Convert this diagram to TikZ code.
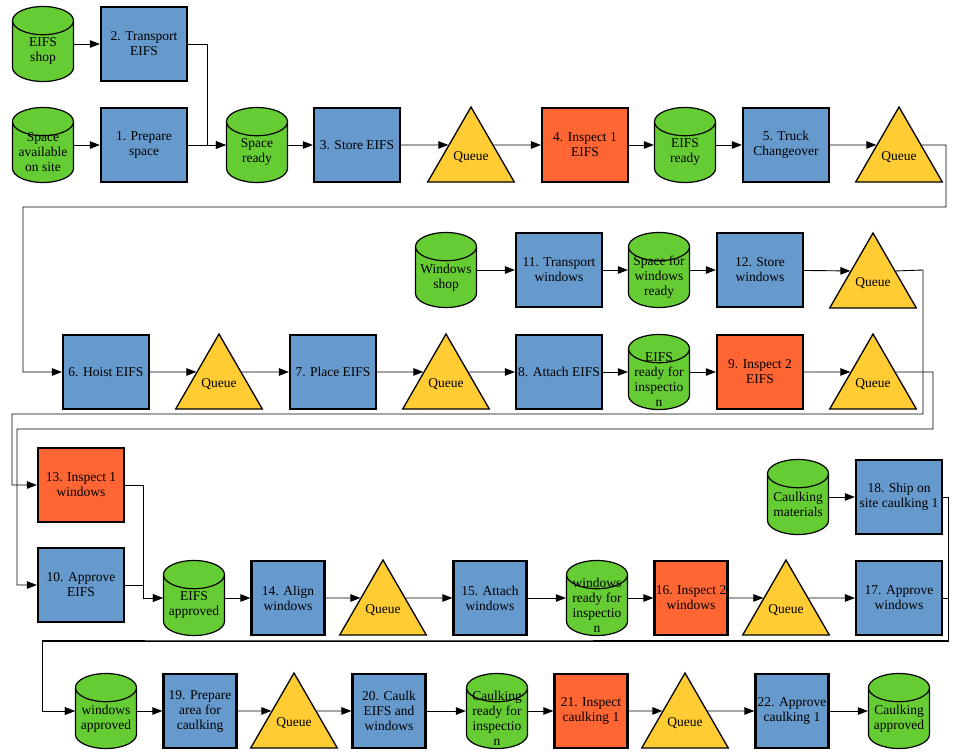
\documentclass[tikz,border=0pt]{standalone}
\usepackage{fontspec}
\setmainfont{Liberation Serif}
\usetikzlibrary{shapes.geometric,arrows.meta}
\pgfdeclarelayer{bg}
\pgfsetlayers{bg,main}
\definecolor{taskblue}{RGB}{102,153,204}
\definecolor{inspred}{RGB}{255,102,51}
\definecolor{stockgreen}{RGB}{102,204,51}
\definecolor{queueyellow}{RGB}{255,204,51}
\tikzset{
    every node/.style={inner sep=0pt, align=center, font=\fontsize{13.5}{15}\selectfont},
    taskbox/.style={rectangle, draw, line width=2.2pt, fill=taskblue, minimum width=86pt, minimum height=74pt},
    narrowbox/.style={minimum width=73pt},
    inspbox/.style={taskbox, fill=inspred},
    stockcyl/.style={cylinder, shape border rotate=90, anchor=shape center, draw, line width=1.2pt, fill=stockgreen, text width=60pt, aspect=0.47, minimum width=61pt, minimum height=75pt},
    stocktext/.style={yshift=0pt},
    queuetri/.style={regular polygon, regular polygon sides=3, draw, line width=1.3pt, fill=queueyellow, minimum size=100pt},
    flowarrow/.style={-{Triangle[length=10pt,width=7.5pt]}, line width=0.9pt}
}

\begin{document}
\begin{tikzpicture}[x=1pt, y=-1pt]
    \useasboundingbox (0,0) rectangle (953,755);

    % EIFS supply
    \node (eshop) [stockcyl, label={[stocktext]center:{EIFS\\shop}}] at (43, 44) {};
    \node (t2) [taskbox] at (144, 44) {2. Transport\\EIFS};
    \node (savail) [stockcyl, label={[stocktext]center:{Space\\available\\on site}}] at (43, 145) {};
    \node (p1) [taskbox] at (144, 145) {1. Prepare\\space};
    \node (sready) [stockcyl, label={[stocktext]center:{Space\\ready}}] at (257, 145) {};
    \node (s3) [taskbox] at (357, 145) {3. Store EIFS};
    \node (qa) [queuetri] at (471, 157) {Queue};
    \node (i4) [inspbox] at (585, 145) {4. Inspect 1\\EIFS};
    \node (eready) [stockcyl, label={[stocktext]center:{EIFS\\ready}}] at (685, 145) {};
    \node (t5) [taskbox] at (786, 145) {5. Truck\\Changeover};
    \node (qb) [queuetri] at (899, 157) {Queue};

    % windows supply
    \node (wshop) [stockcyl, label={[stocktext]center:{Windows\\shop}}] at (446, 270) {};
    \node (t11) [taskbox] at (559, 270) {11. Transport\\windows};
    \node (swready) [stockcyl, label={[stocktext]center:{Space for\\windows\\ready}}] at (659, 270) {};
    \node (s12) [taskbox] at (760, 270) {12. Store\\windows};
    \node (qc) [queuetri] at (873, 283) {Queue};

    % EIFS on site
    \node (h6) [taskbox] at (106, 372) {6. Hoist EIFS};
    \node (qd) [queuetri] at (219, 384) {Queue};
    \node (pl7) [taskbox] at (333, 372) {7. Place EIFS};
    \node (qe) [queuetri] at (446, 384) {Queue};
    \node (a8) [taskbox] at (559, 372) {8. Attach EIFS};
    \node (erfi) [stockcyl, label={[stocktext]center:{EIFS\\ready for\\inspectio\\n}}] at (659, 372) {};
    \node (i9) [inspbox] at (760, 372) {9. Inspect 2\\EIFS};
    \node (qf) [queuetri] at (873, 384) {Queue};

    \node (i13) [inspbox] at (81, 485) {13. Inspect 1\\windows};
    \node (ap10) [taskbox] at (81, 585) {10. Approve\\EIFS};
    \node (cmat) [stockcyl, label={[stocktext]center:{Caulking\\materials}}] at (798, 497) {};
    \node (sh18) [taskbox] at (899, 497) {18. Ship on\\site caulking 1};

    % windows on site
    \node (eappr) [stockcyl, label={[stocktext]center:{EIFS\\approved}}] at (194, 598) {};
    \node (al14) [taskbox, narrowbox] at (288, 598) {14. Align\\windows};
    \node (qg) [queuetri] at (383, 610) {Queue};
    \node (at15) [taskbox, narrowbox] at (490, 598) {15. Attach\\windows};
    \node (wrfi) [stockcyl, label={[stocktext]center:{windows\\ready for\\inspectio\\n}}] at (597, 598) {};
    \node (i16) [inspbox, narrowbox] at (691, 598) {16. Inspect 2\\windows};
    \node (qh) [queuetri] at (786, 610) {Queue};
    \node (ap17) [taskbox] at (899, 598) {17. Approve\\windows};

    % caulking
    \node (wappr) [stockcyl, label={[stocktext]center:{windows\\approved}}] at (106, 711) {};
    \node (pr19) [taskbox, narrowbox] at (200, 711) {19. Prepare\\area for\\caulking};
    \node (qi) [queuetri] at (294, 723) {Queue};
    \node (ck20) [taskbox, narrowbox] at (389, 711) {20. Caulk\\EIFS and\\windows};
    \node (crfi) [stockcyl, label={[stocktext]center:{Caulking\\ready for\\inspectio\\n}}] at (497, 711) {};
    \node (ic21) [inspbox, narrowbox] at (591, 711) {21. Inspect\\caulking 1};
    \node (qj) [queuetri] at (685, 723) {Queue};
    \node (apc22) [taskbox, narrowbox] at (792, 711) {22. Approve\\caulking 1};
    \node (cappr) [stockcyl, label={[stocktext]center:{Caulking\\approved}}] at (899, 711) {};

    \begin{pgfonlayer}{bg}
        \draw[flowarrow] (eshop.east |- eshop.shape center) -- (t2);
        \draw[flowarrow] (savail.east |- savail.shape center) -- (p1);
        \draw[flowarrow] (p1) -- (sready.west |- sready.shape center);
        \draw[flowarrow] (t2.east) -- ++(19,0) |- (sready.west |- sready.shape center);
        \draw[flowarrow] (sready.east |- sready.shape center) -- (s3);
        \draw[flowarrow] (s3) -- (qa.152);
        \draw[flowarrow] (qa.28) -- (i4);
        \draw[flowarrow] (i4) -- (eready.west |- eready.shape center);
        \draw[flowarrow] (eready.east |- eready.shape center) -- (t5);
        \draw[flowarrow] (t5) -- (qb.152);
        \draw[flowarrow] (qb.28) -- (946,145) |- (23,207) |- (h6);

        \draw[flowarrow] (wshop.east |- wshop.shape center) -- (t11);
        \draw[flowarrow] (t11) -- (swready.west |- swready.shape center);
        \draw[flowarrow] (swready.east |- swready.shape center) -- (s12);
        \draw[flowarrow] (s12) -- (qc.152);
        \draw[flowarrow] (qc.28) -- (923,270) |- (12,414) |- (i13);

        \draw[flowarrow] (h6) -- (qd.152);
        \draw[flowarrow] (qd.28) -- (pl7);
        \draw[flowarrow] (pl7) -- (qe.152);
        \draw[flowarrow] (qe.28) -- (a8);
        \draw[flowarrow] (a8) -- (erfi.west |- erfi.shape center);
        \draw[flowarrow] (erfi.east |- erfi.shape center) -- (i9);
        \draw[flowarrow] (i9) -- (qf.152);
        \draw[flowarrow] (qf.28) -- (933,372) |- (17,429) |- (ap10);

        \draw[flowarrow] (i13.east) -- ++(18,0) |- (eappr.west |- eappr.shape center);
        \draw[flowarrow] (ap10.east) -- ++(18,0) |- (eappr.west |- eappr.shape center);

        \draw[flowarrow] (eappr.east |- eappr.shape center) -- (al14);
        \draw[flowarrow] (al14) -- (qg.152);
        \draw[flowarrow] (qg.28) -- (at15);
        \draw[flowarrow] (at15) -- (wrfi.west |- wrfi.shape center);
        \draw[flowarrow] (wrfi.east |- wrfi.shape center) -- (i16);
        \draw[flowarrow] (i16) -- (qh.152);
        \draw[flowarrow] (qh.28) -- (ap17);
        \draw[flowarrow] (cmat.east |- cmat.shape center) -- (sh18);
        \draw[flowarrow] (sh18.east) -- (948,497) |- (42,641) |- (wappr.west |- wappr.shape center);
        \draw[flowarrow] (ap17.east) -- (948,598) |- (245,640) -- (42,640) |- (wappr.west |- wappr.shape center);

        \draw[flowarrow] (wappr.east |- wappr.shape center) -- (pr19);
        \draw[flowarrow] (pr19) -- (qi.152);
        \draw[flowarrow] (qi.28) -- (ck20);
        \draw[flowarrow] (ck20) -- (crfi.west |- crfi.shape center);
        \draw[flowarrow] (crfi.east |- crfi.shape center) -- (ic21);
        \draw[flowarrow] (ic21) -- (qj.152);
        \draw[flowarrow] (qj.28) -- (apc22);
        \draw[flowarrow] (apc22) -- (cappr.west |- cappr.shape center);
    \end{pgfonlayer}
\end{tikzpicture}
\end{document}
